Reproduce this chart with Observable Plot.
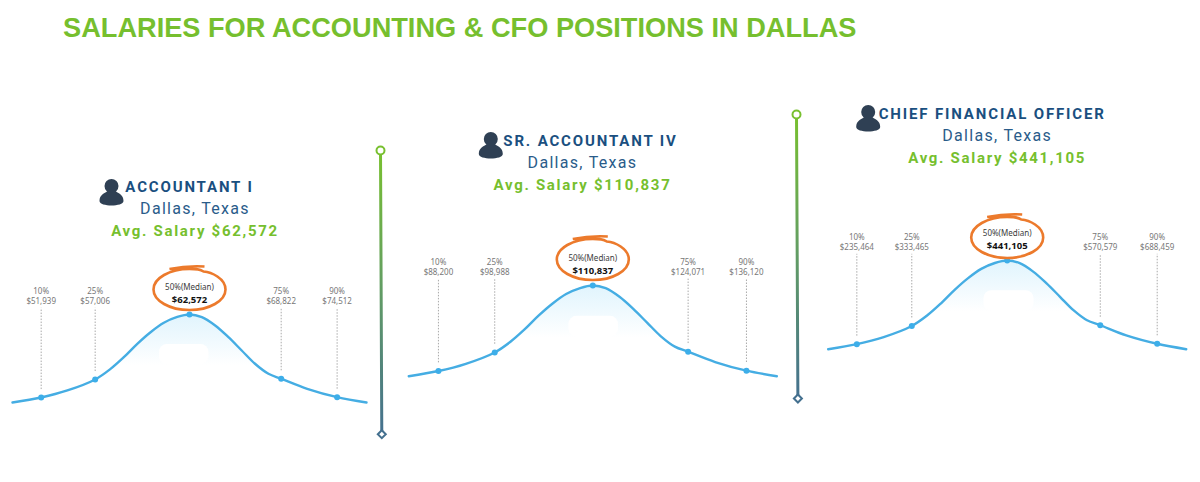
<!DOCTYPE html>
<html>
<head>
<meta charset="utf-8">
<script src="https://cdn.jsdelivr.net/npm/d3@7"></script>
<script src="https://cdn.jsdelivr.net/npm/@observablehq/plot@0.6"></script>
<style>
html,body{margin:0;padding:0;background:#fff;overflow:hidden}
#page{position:relative;width:1200px;height:482px;overflow:hidden}
#title{position:absolute;left:63px;top:12px;font:bold 27.2px "Liberation Sans",Arial,sans-serif;color:#76bf2e;white-space:nowrap}
.col{position:absolute;top:50px}
.job{letter-spacing:1.85px}
.loc{letter-spacing:1.3px}
.avg{letter-spacing:1.7px}
</style>
</head>
<body>
<div id="page"><div id="title"></div></div>
<script>
// ---- Data ----
const titleText = "SALARIES FOR ACCOUNTING & CFO POSITIONS IN DALLAS";
const jobs = ["ACCOUNTANT I", "SR. ACCOUNTANT IV", "CHIEF FINANCIAL OFFICER"];
const location_ = "Dallas, Texas";
const averages = ["$62,572", "$110,837", "$441,105"];
const percentiles = ["10%", "25%", "50%(Median)", "75%", "90%"];
const salaries = [
  ["$51,939", "$57,006", "$62,572", "$68,822", "$74,512"],
  ["$88,200", "$98,988", "$110,837", "$124,071", "$136,120"],
  ["$235,464", "$333,465", "$441,105", "$570,579", "$688,459"]
];
// curve shape: position from the median (-100..100) and relative height (0..100)
const shapePos    = [-100, -69, -44.6, -37.1, -29.5, -22, -14.5, -6.9, 7, 14.5, 22, 29.5, 37, 44.6, 66.5, 100];
const shapeHeight = [0, 13.7, 38.2, 51.5, 66.7, 79.9, 90.6, 97.2, 97, 87.5, 74.2, 59.1, 44, 32.6, 15.6, 0];
const markPos = [
  [-83.8, -53.3, 0, 51.8, 83.4],
  [-83.9, -53.3, 0, 51.8, 83.5],
  [-84, -53.3, 0, 52, 83.8]
];
const markHeight = [5.7, 26.2, 100, 27, 6.1];
const dividerT = [0, 1];

// ---- Layout and style ----
const GREEN = "#76bf2e", NAVY = "#1a4f80", BLUE = "#45ade3", ICON = "#2f4054", ORANGE = "#ec7a2c";
const TOP = 50, H = 432;
const cols = [
  {left: 0,   width: 372, cx: 189,    half: 177, base: 402,   h: 88,   hdx: 5.5,   hdy: -78.6, jdx: 0,     ix: -78,  iy: -122, ey: -25, notch: [-17, 11]},
  {left: 388, width: 404, cx: 592.3,  half: 184, base: 375.7, h: 90.7, hdx: -10.3, hdy: -95.7, jdx: -2.3,  ix: -102, iy: -140, ey: -26, notch: [-13, 14]},
  {left: 802, width: 398, cx: 1006.7, half: 179, base: 348.7, h: 88.7, hdx: -10,   hdy: -97.7, jdx: -15,   ix: -139, iy: -142, ey: -23, notch: [-13, 15]}
];
const dividers = [
  {x: [380, 381.3], y: [150, 433.7]},
  {x: [796.3, 797.7], y: [114, 398]}
];

function defs(id, stops, x2 = 0, y2 = 1) {
  return () => {
    const d = d3.create("svg:defs");
    const g = d.append("linearGradient").attr("id", id)
      .attr("x1", 0).attr("y1", 0).attr("x2", x2).attr("y2", y2);
    stops.forEach(([o, c]) => g.append("stop").attr("offset", o).attr("stop-color", c));
    return d.node();
  };
}

// person glyph and hand-drawn ring as custom symbols, drawn around the dot's centre
const person = {draw(c, size) {
  const s = Math.sqrt(size / Math.PI);
  c.moveTo(7 * s, -6.5 * s); c.arc(0, -6.5 * s, 7 * s, 0, 2 * Math.PI);
  c.moveTo(-12 * s, 8.5 * s);
  c.bezierCurveTo(-12 * s, 2 * s, -7 * s, 1 * s, -4 * s, -1.5 * s);
  c.bezierCurveTo(-1 * s, 1 * s, 1 * s, 1 * s, 4 * s, -1.5 * s);
  c.bezierCurveTo(7 * s, 1 * s, 12 * s, 2 * s, 12 * s, 8.5 * s);
  c.bezierCurveTo(12 * s, 14.5 * s, -12 * s, 14.5 * s, -12 * s, 8.5 * s);
  c.closePath();
}};
const ring = {draw(c, size) {
  const s = Math.sqrt(size / Math.PI), a = 36 * s, b = 20.5 * s, k = 0.5523;
  c.moveTo(15 * s, -23 * s);
  c.bezierCurveTo(6 * s, -23.5 * s, -10 * s, -22.5 * s, -20 * s, -20.5 * s);
  c.bezierCurveTo(-5 * s, -22 * s, 8 * s, -22 * s, 14 * s, -18 * s);
  c.bezierCurveTo(a * 0.6, -b * 0.85, a, -b * k, a, 0);
  c.bezierCurveTo(a, b * k, a * k, b, 0, b);
  c.bezierCurveTo(-a * k, b, -a, b * k, -a, 0);
  c.bezierCurveTo(-a, -b * k, -a * k, -b, 0, -b);
  c.bezierCurveTo(a * 0.2, -b, a * 0.3, -b * 0.98, 14 * s, -18 * s);
}};

const page = document.getElementById("page");
document.getElementById("title").textContent = titleText;

cols.forEach((c, i) => {
  const marks = percentiles.map((p, j) => ({
    label: p, salary: salaries[i][j], pos: markPos[i][j], height: markHeight[j], median: j === 2
  }));
  const curve = [
    ...shapePos.map((pos, j) => ({pos, height: shapeHeight[j]})),
    ...marks.map(({pos, height}) => ({pos, height}))
  ].sort((a, b) => a.pos - b.pos);
  const side = marks.filter(m => !m.median);
  const mid = marks.filter(m => m.median);
  const head = [{pos: 0, height: 100}];
  const sans = "Noto Sans, sans-serif", rob = "Roboto, sans-serif";
  const gid = `under${i}`;

  const plot = Plot.plot({
    width: c.width, height: H,
    margin: 0,
    style: {background: "transparent"},
    x: {domain: [-100, 100], range: [c.cx - c.half - c.left, c.cx + c.half - c.left], axis: null},
    y: {domain: [0, 100], range: [c.base - TOP, c.base - c.h - TOP], axis: null},
    marks: [
      defs(gid, [[0, "#e0f4fd"], [0.58, "#ffffff"]]),
      Plot.areaY(curve, {x: "pos", y: "height", curve: "catmull-rom", fill: `url(#${gid})`}),
      Plot.rect([c.notch], {x1: "0", x2: "1", y1: () => 43, y2: () => 66, fill: "white", rx: 8}),
      Plot.ruleX(side, {x: "pos", y1: d => d.height + 9, y2: 107, stroke: "#a9a9a9", strokeWidth: 1, strokeDasharray: "1.5,1.5"}),
      Plot.line(curve, {x: "pos", y: "height", curve: "catmull-rom", stroke: BLUE, strokeWidth: 2.4}),
      Plot.dot(marks, {x: "pos", y: "height", r: 3, fill: "#3daee9"}),
      Plot.text(side, {x: "pos", y: 107, dy: -14, text: "label", fontFamily: sans, fontSize: 8, fill: "#777", lineAnchor: "bottom"}),
      Plot.text(side, {x: "pos", y: 107, dy: -4, text: "salary", fontFamily: sans, fontSize: 8, fill: "#777", lineAnchor: "bottom"}),
      Plot.text(mid, {x: "pos", y: "height", dy: -25, text: "label", fontFamily: sans, fontSize: 8, fill: "#3c3c3c", lineAnchor: "bottom"}),
      Plot.text(mid, {x: "pos", y: "height", dy: -11.5, text: "salary", fontFamily: sans, fontSize: 9.5, fontWeight: 700, fill: "#111", lineAnchor: "bottom"}),
      Plot.dot(head, {x: "pos", y: "height", dy: c.ey, r: 1, symbol: ring, stroke: ORANGE, strokeWidth: 2.6, fill: "none"}),
      Plot.dot(head, {x: "pos", y: "height", dx: c.ix, dy: c.iy, r: 1, symbol: person, fill: ICON, stroke: "none"}),
      Plot.text([jobs[i]], {x: () => 0, y: () => 100, dx: c.jdx, dy: c.hdy - 44, text: d => d, fontFamily: rob, fontSize: 15, fontWeight: 700, fill: NAVY, lineAnchor: "bottom", className: "job"}),
      Plot.text([location_], {x: () => 0, y: () => 100, dx: c.hdx, dy: c.hdy - 22.3, text: d => d, fontFamily: rob, fontSize: 16, fill: "#2a5c8a", lineAnchor: "bottom", className: "loc"}),
      Plot.text([averages[i]], {x: () => 0, y: () => 100, dx: c.hdx, dy: c.hdy, text: d => `Avg. Salary ${d}`, fontFamily: rob, fontSize: 15, fontWeight: 700, fill: GREEN, lineAnchor: "bottom", className: "avg"})
    ]
  });
  plot.setAttribute("class", (plot.getAttribute("class") || "") + " col");
  plot.style.left = c.left + "px";
  page.appendChild(plot);
});

dividers.forEach((d, i) => {
  const left = d.x[0] - 8, w = 20, gid = `rule${i}`;
  const ends = dividerT.map(t => ({t}));
  const plot = Plot.plot({
    width: w, height: H, margin: 0,
    style: {background: "transparent"},
    x: {domain: dividerT, range: [8, 8 + d.x[1] - d.x[0]], axis: null},
    y: {domain: dividerT, range: [d.y[0] - TOP, d.y[1] - TOP], axis: null},
    marks: [
      defs(gid, [[0, "#78c02f"], [0.45, "#64a060"], [1, "#44708f"]]),
      Plot.line(ends, {x: "t", y: "t", stroke: `url(#${gid})`, strokeWidth: 3}),
      Plot.dot(ends.slice(0, 1), {x: "t", y: "t", r: 4, fill: "white", stroke: "#78c02f", strokeWidth: 2}),
      Plot.dot(ends.slice(1), {x: "t", y: "t", r: 3.6, symbol: "diamond2", fill: "white", stroke: "#44708f", strokeWidth: 2})
    ]
  });
  plot.setAttribute("class", (plot.getAttribute("class") || "") + " col");
  plot.style.left = left + "px";
  page.appendChild(plot);
});
</script>
</body>
</html>
